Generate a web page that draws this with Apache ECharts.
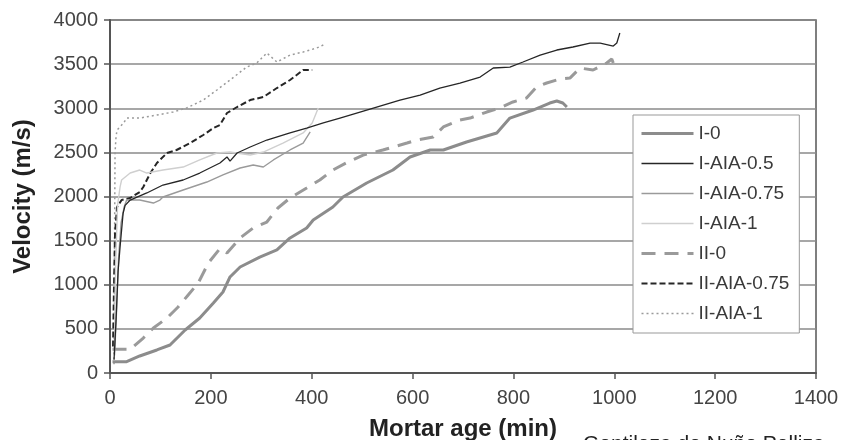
<!DOCTYPE html>
<html>
<head>
<meta charset="utf-8">
<script src="https://cdn.jsdelivr.net/npm/echarts@6/dist/echarts.min.js"></script>
<style>
html,body{margin:0;padding:0;background:#fff;}
#chart{width:841px;height:440px;}
</style>
</head>
<body>
<div id="chart"></div>
<script>
// ---- Data ----
const seriesNames = ["I-0", "I-AIA-0.5", "I-AIA-0.75", "I-AIA-1", "II-0", "II-AIA-0.75", "II-AIA-1"];
const xTicks = [0, 200, 400, 600, 800, 1000, 1200, 1400];
const yTicks = [0, 500, 1000, 1500, 2000, 2500, 3000, 3500, 4000];

const I0_age = [5, 33, 59, 93, 119, 149, 178, 205, 224, 238, 258, 297, 331, 357, 390, 403, 442, 462, 509, 561, 595, 635, 661, 707, 767, 793, 839, 872, 886, 898, 906];
const I0_vel = [128, 128, 193, 261, 317, 487, 623, 793, 918, 1088, 1201, 1314, 1394, 1530, 1643, 1734, 1881, 1994, 2153, 2300, 2448, 2527, 2527, 2618, 2720, 2889, 2980, 3059, 3082, 3059, 3014];

const IAIA05_age = [8, 12, 16, 20, 26, 30, 40, 73, 105, 145, 178, 218, 232, 238, 252, 278, 311, 357, 390, 423, 456, 509, 575, 615, 654, 694, 734, 760, 793, 819, 853, 886, 918, 952, 972, 998, 1005, 1011];
const IAIA05_vel = [150, 600, 1150, 1430, 1810, 1900, 1960, 2040, 2130, 2187, 2266, 2380, 2448, 2400, 2493, 2561, 2640, 2720, 2776, 2833, 2889, 2980, 3093, 3150, 3229, 3286, 3354, 3456, 3467, 3524, 3603, 3660, 3694, 3739, 3739, 3705, 3739, 3853];

const IAIA075_age = [9, 13, 17, 22, 28, 33, 59, 86, 99, 105, 145, 192, 224, 258, 284, 304, 324, 357, 383, 397];
const IAIA075_vel = [200, 700, 1300, 1700, 1880, 1960, 1960, 1926, 1960, 1994, 2074, 2164, 2244, 2323, 2357, 2334, 2414, 2527, 2606, 2731];

const IAIA1_age = [9, 11, 15, 20, 23, 40, 59, 73, 105, 145, 178, 212, 238, 278, 304, 343, 383, 401, 413];
const IAIA1_vel = [300, 1200, 1900, 2108, 2187, 2266, 2300, 2266, 2300, 2334, 2414, 2493, 2504, 2470, 2504, 2606, 2720, 2833, 3003];

const II0_age = [5, 40, 66, 86, 113, 135, 155, 175, 195, 218, 232, 258, 284, 311, 333, 357, 390, 416, 442, 472, 502, 541, 589, 608, 641, 661, 694, 714, 747, 773, 799, 826, 846, 866, 892, 912, 932, 958, 985, 995, 998];
const II0_vel = [268, 268, 396, 510, 623, 748, 884, 1020, 1246, 1410, 1360, 1530, 1643, 1711, 1870, 1983, 2096, 2187, 2300, 2391, 2470, 2527, 2606, 2640, 2674, 2788, 2867, 2889, 2957, 3003, 3071, 3116, 3241, 3286, 3331, 3342, 3456, 3433, 3513, 3558, 3513];

const IIAIA075_age = [6, 8, 10, 14, 23, 40, 59, 66, 80, 93, 113, 132, 159, 185, 205, 218, 232, 252, 278, 304, 331, 357, 383, 401];
const IIAIA075_vel = [300, 1000, 1586, 1881, 1960, 1983, 2051, 2108, 2266, 2380, 2493, 2527, 2606, 2697, 2776, 2810, 2946, 3014, 3093, 3127, 3229, 3320, 3433, 3433];

const IIAIA1_age = [8, 9, 10, 12, 14, 27, 33, 59, 93, 125, 152, 185, 212, 238, 271, 291, 311, 331, 357, 383, 410, 423];
const IIAIA1_vel = [100, 1500, 2500, 2680, 2753, 2833, 2889, 2889, 2923, 2957, 3003, 3093, 3207, 3320, 3467, 3513, 3626, 3524, 3603, 3637, 3683, 3717];

const captionText = "Gentileza de Nuño Pelliza";

// ---- Build ----
function zip(a, b) { return a.map((v, i) => [v, b[i]]); }
const allData = [
  zip(I0_age, I0_vel), zip(IAIA05_age, IAIA05_vel), zip(IAIA075_age, IAIA075_vel),
  zip(IAIA1_age, IAIA1_vel), zip(II0_age, II0_vel), zip(IIAIA075_age, IIAIA075_vel),
  zip(IIAIA1_age, IIAIA1_vel)
];
const styles = [
  {color: '#8c8c8c', width: 3, type: 'solid'},
  {color: '#262626', width: 1.3, type: 'solid'},
  {color: '#9a9a9a', width: 1.4, type: 'solid'},
  {color: '#cfcfcf', width: 1.4, type: 'solid'},
  {color: '#9a9a9a', width: 3, type: [14, 9]},
  {color: '#262626', width: 2, type: [6, 3]},
  {color: '#9a9a9a', width: 1.5, type: [2, 3]}
];

const FONT = 'Liberation Sans, Arial, sans-serif';
const chart = echarts.init(document.getElementById('chart'), null, {renderer: 'canvas'});
chart.setOption({
  animation: false,
  backgroundColor: '#fff',
  grid: {left: 110, right: 25, top: 20, bottom: 67, containLabel: false, outerBoundsMode: 'none',
         show: true, borderColor: '#555', borderWidth: 1.5, backgroundColor: 'transparent'},
  xAxis: {
    type: 'value', min: xTicks[0], max: xTicks[xTicks.length - 1], interval: 200,
    name: 'Mortar age (min)', nameLocation: 'middle', nameGap: 44,
    nameTextStyle: {fontFamily: FONT, fontSize: 24, fontWeight: 'bold', color: '#222'},
    axisLine: {show: true, lineStyle: {color: '#555', width: 2}},
    axisTick: {show: true, length: 6, lineStyle: {color: '#555', width: 1.5}},
    axisLabel: {fontFamily: FONT, fontSize: 20, color: '#444', margin: 15, formatter: v => String(v)},
    splitLine: {show: false}
  },
  yAxis: {
    type: 'value', min: yTicks[0], max: yTicks[yTicks.length - 1], interval: 500,
    name: 'Velocity (m/s)', nameLocation: 'middle', nameGap: 75,
    nameTextStyle: {fontFamily: FONT, fontSize: 24, fontWeight: 'bold', color: '#222'},
    axisLine: {show: true, lineStyle: {color: '#555', width: 2}},
    axisTick: {show: true, length: 6, lineStyle: {color: '#555', width: 1.5}},
    axisLabel: {fontFamily: FONT, fontSize: 20, color: '#444', margin: 12, formatter: v => String(v)},
    splitLine: {show: true, lineStyle: {color: '#8a8a8a', width: 1.5}}
  },
  legend: {
    orient: 'vertical', left: 633, top: 115,
    data: seriesNames.map((n, i) => ({name: n, lineStyle: {width: styles[i].width, color: styles[i].color, type: styles[i].type}})),
    itemWidth: 52, itemHeight: 14, itemGap: 11,
    padding: [9, 10, 10, 7],
    backgroundColor: '#fff', borderColor: '#999', borderWidth: 1,
    itemStyle: {color: 'transparent', borderColor: 'transparent', borderWidth: 0, opacity: 0},
    textStyle: {fontFamily: FONT, fontSize: 19, color: '#3a3a3a'}
  },
  graphic: [{
    type: 'text', left: 583, top: 434,
    style: {text: captionText, font: '21px ' + FONT, fill: '#222'}
  }],
  series: seriesNames.map((n, i) => ({
    name: n, type: 'line', data: allData[i], showSymbol: false, symbol: 'none',
    lineStyle: styles[i], itemStyle: {color: styles[i].color}, z: 2 + (6 - i)
  }))
});
</script>
</body>
</html>
